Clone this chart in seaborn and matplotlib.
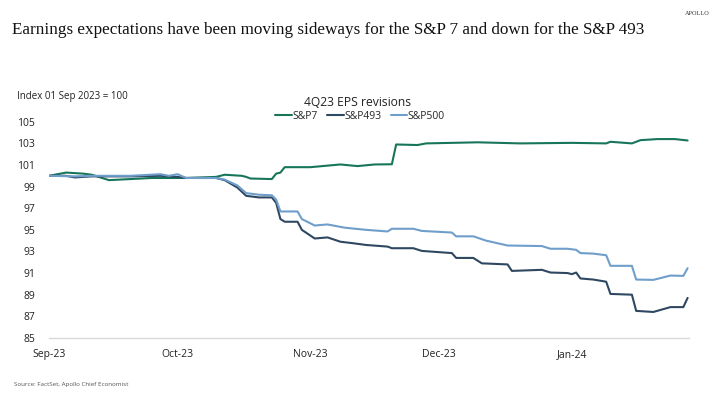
import pandas as pd
import matplotlib.pyplot as plt
import matplotlib.dates as mdates
import seaborn as sns

# S&P 7 (Magnificent 7) 4Q23 EPS revisions, index 01 Sep 2023 = 100
sp7_dates = ['2023-09-01', '2023-09-05', '2023-09-09', '2023-09-11', '2023-09-15', '2023-09-20',
             '2023-09-25', '2023-10-03', '2023-10-10', '2023-10-12', '2023-10-16', '2023-10-17',
             '2023-10-18', '2023-10-23', '2023-10-24', '2023-10-25', '2023-10-26', '2023-11-01',
             '2023-11-08', '2023-11-12', '2023-11-16', '2023-11-20', '2023-11-21', '2023-11-26',
             '2023-11-28', '2023-12-10', '2023-12-20', '2024-01-01', '2024-01-09', '2024-01-10',
             '2024-01-15', '2024-01-17', '2024-01-21', '2024-01-25', '2024-01-28']
sp7_values = [100.0, 100.3, 100.2, 100.1, 99.6, 99.7,
              99.8, 99.8, 99.9, 100.1, 100.0, 99.9,
              99.75, 99.7, 100.2, 100.3, 100.8, 100.8,
              101.05, 100.9, 101.05, 101.07, 102.9, 102.85,
              103.0, 103.1, 103.0, 103.05, 103.0, 103.15,
              103.0, 103.3, 103.4, 103.4, 103.27]

# S&P 493
sp493_dates = ['2023-09-01', '2023-09-05', '2023-09-07', '2023-09-11', '2023-09-20', '2023-09-27',
               '2023-10-01', '2023-10-03', '2023-10-10', '2023-10-12', '2023-10-15', '2023-10-17',
               '2023-10-20', '2023-10-23', '2023-10-24', '2023-10-25', '2023-10-26', '2023-10-29',
               '2023-10-30', '2023-11-02', '2023-11-05', '2023-11-08', '2023-11-11', '2023-11-14',
               '2023-11-19', '2023-11-20', '2023-11-25', '2023-11-27', '2023-12-04', '2023-12-05',
               '2023-12-09', '2023-12-11', '2023-12-17', '2023-12-18', '2023-12-25', '2023-12-27',
               '2023-12-31', '2024-01-01', '2024-01-02', '2024-01-03', '2024-01-06', '2024-01-09',
               '2024-01-10', '2024-01-15', '2024-01-16', '2024-01-20', '2024-01-24', '2024-01-27',
               '2024-01-28']
sp493_values = [100.0, 100.0, 99.85, 99.95, 99.95, 100.0,
                99.9, 99.8, 99.8, 99.6, 98.9, 98.15,
                98.0, 98.0, 97.5, 96.0, 95.75, 95.75,
                95.0, 94.2, 94.3, 93.9, 93.76, 93.6,
                93.45, 93.3, 93.3, 93.05, 92.85, 92.4,
                92.4, 91.9, 91.8, 91.2, 91.3, 91.05,
                91.0, 90.9, 91.05, 90.5, 90.4, 90.2,
                89.07, 89.0, 87.5, 87.4, 87.85, 87.85,
                88.7]

# S&P 500
sp500_dates = ['2023-09-01', '2023-09-07', '2023-09-11', '2023-09-20', '2023-09-27', '2023-09-29',
               '2023-10-01', '2023-10-03', '2023-10-10', '2023-10-12', '2023-10-15', '2023-10-17',
               '2023-10-20', '2023-10-23', '2023-10-24', '2023-10-25', '2023-10-29', '2023-10-30',
               '2023-11-02', '2023-11-05', '2023-11-09', '2023-11-14', '2023-11-19', '2023-11-20',
               '2023-11-25', '2023-11-27', '2023-12-04', '2023-12-05', '2023-12-09', '2023-12-12',
               '2023-12-17', '2023-12-25', '2023-12-27', '2023-12-31', '2024-01-02', '2024-01-03',
               '2024-01-06', '2024-01-09', '2024-01-10', '2024-01-15', '2024-01-16', '2024-01-20',
               '2024-01-24', '2024-01-27', '2024-01-28']
sp500_values = [100.0, 99.95, 100.0, 100.0, 100.15, 100.0,
                100.15, 99.8, 99.8, 99.65, 99.1, 98.4,
                98.25, 98.2, 97.8, 96.7, 96.7, 96.0,
                95.4, 95.5, 95.2, 95.0, 94.85, 95.1,
                95.1, 94.9, 94.75, 94.4, 94.4, 94.0,
                93.55, 93.5, 93.25, 93.25, 93.15, 92.85,
                92.8, 92.65, 91.67, 91.67, 90.4, 90.37,
                90.77, 90.74, 91.45]

series_names = ['S&P7', 'S&P493', 'S&P500']
series_colors = ['#17765a', '#2f4862', '#6f9ecb']
month_ticks = ['2023-09-01', '2023-10-01', '2023-11-01', '2023-12-01', '2024-01-01']
y_ticks = list(range(85, 106, 2))

frames = []
for name, d, v in zip(series_names,
                      [sp7_dates, sp493_dates, sp500_dates],
                      [sp7_values, sp493_values, sp500_values]):
    frames.append(pd.DataFrame({'Date': pd.to_datetime(d), 'Index': v, 'Series': name}))
data = pd.concat(frames, ignore_index=True)

sns.set_style('white')
plt.rcParams['font.family'] = ['Open Sans', 'DejaVu Sans']

fig = plt.figure(figsize=(7.2, 3.98), dpi=100)
ax = fig.add_axes([0.068, 0.151, 0.889, 0.543])

sns.lineplot(data=data, x='Date', y='Index', hue='Series', hue_order=series_names,
             palette=series_colors, linewidth=1.5, ax=ax, legend=False)

ax.set_ylim(85, 105)
ax.set_xlim(pd.Timestamp('2023-09-01'), pd.Timestamp('2024-01-28 08:00'))
ax.set_yticks(y_ticks)
ax.set_xticks(pd.to_datetime(month_ticks))
ax.xaxis.set_major_formatter(mdates.DateFormatter('%b-%y'))
ax.set_xlabel('')
ax.set_ylabel('')
ax.tick_params(axis='y', length=0, labelsize=7.5, pad=10, labelcolor='#222222')
ax.tick_params(axis='x', direction='in', length=3, color='#d0d0d0', labelsize=7.5,
               pad=8, labelcolor='#222222')
for side in ['top', 'right', 'left']:
    ax.spines[side].set_visible(False)
ax.spines['bottom'].set_color('#d9d9d9')
ax.spines['bottom'].set_linewidth(1)

# legend built from the drawn lines
handles = ax.get_lines()[:3]
fig.legend(handles, series_names, loc='center', bbox_to_anchor=(0.5, 0.708), ncol=3,
           frameon=False, fontsize=7.5, handlelength=1.6, handletextpad=0.05,
           columnspacing=0.9, borderaxespad=0)

fig.text(0.497, 0.743, '4Q23 EPS revisions', ha='center', va='center', fontsize=8.7, color='#222222')
fig.text(0.024, 0.757, 'Index 01 Sep 2023 = 100', ha='left', va='center', fontsize=7, color='#222222')

fig.text(0.016, 0.925, 'Earnings expectations have been moving sideways for the S&P 7 and down for the S&P 493',
         ha='left', va='center', fontsize=12.3, family='Liberation Serif', color='#111111')
fig.text(0.985, 0.967, 'APOLLO', ha='right', va='center', fontsize=4.5, family='Liberation Serif',
         color='#333333')
fig.text(0.02, 0.035, 'Source: FactSet, Apollo Chief Economist', ha='left', va='center',
         fontsize=4.5, color='#555555')

plt.savefig('out.png', dpi=100)
plt.close()
